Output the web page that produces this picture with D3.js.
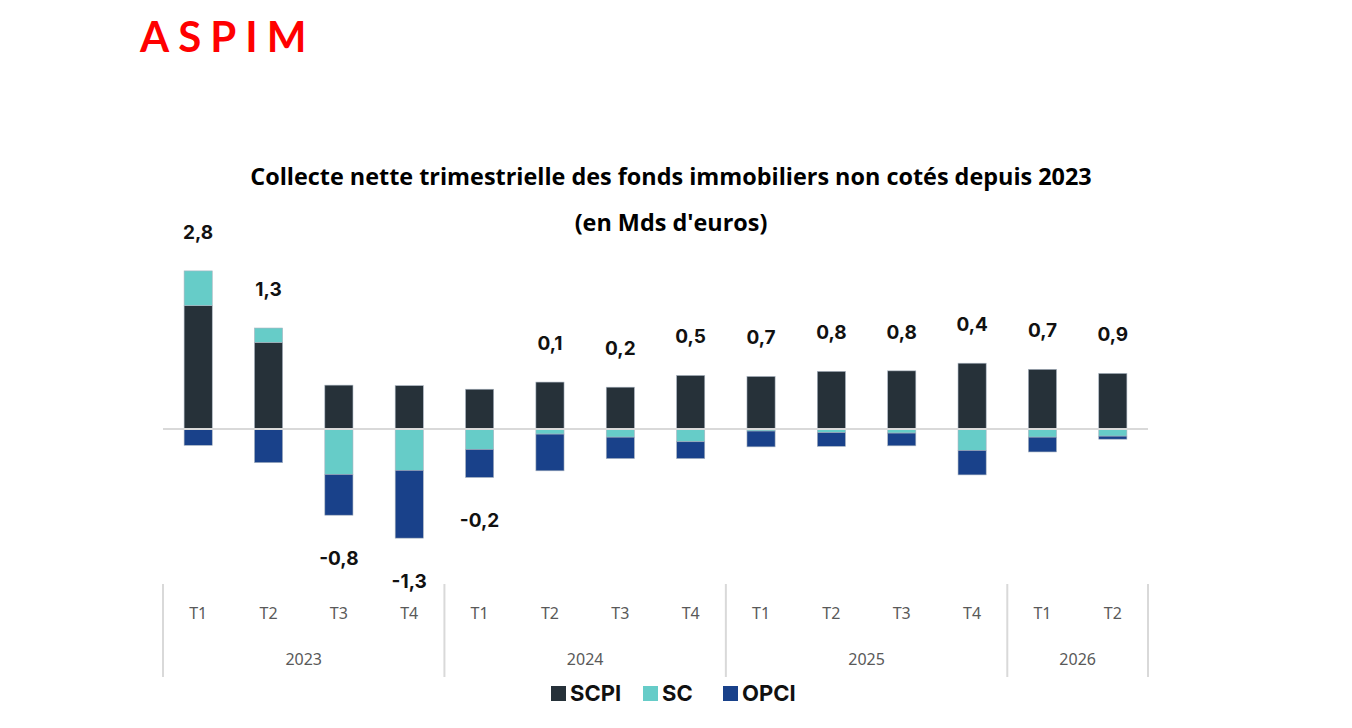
<!DOCTYPE html>
<html>
<head>
<meta charset="utf-8">
<script src="https://cdn.jsdelivr.net/npm/d3@7"></script>
<style>
  body { margin: 0; background: #ffffff; }
  svg { display: block; }
</style>
</head>
<body>
<svg id="chart" width="1352" height="728"></svg>
<script>
// Quarters and years
const quarters = ["T1", "T2", "T3", "T4", "T1", "T2", "T3", "T4", "T1", "T2", "T3", "T4", "T1", "T2"];
const years = ["2023", "2024", "2025", "2026"];
const quartersPerYear = [4, 4, 4, 2];

// Series values (Mds d'euros)
const scpi = [2.42, 1.70, 0.86, 0.85, 0.78, 0.92, 0.82, 1.05, 1.03, 1.13, 1.14, 1.29, 1.17, 1.09];
const sc   = [0.68, 0.28, -0.89, -0.81, -0.40, -0.10, -0.16, -0.25, -0.04, -0.07, -0.08, -0.42, -0.16, -0.14];
const opci = [-0.32, -0.66, -0.80, -1.33, -0.55, -0.72, -0.42, -0.33, -0.31, -0.27, -0.25, -0.48, -0.29, -0.06];

const seriesNames = ["SCPI", "SC", "OPCI"];
const colors = { SCPI: "#263139", SC: "#66ccc8", OPCI: "#19418a" };

const svg = d3.select("#chart");

// Logo
svg.append("text")
  .attr("x", 140).attr("y", 52)
  .attr("font-family", "Lato, 'Noto Sans', sans-serif")
  .attr("font-weight", 700)
  .attr("font-size", 42)
  .attr("letter-spacing", 9)
  .attr("fill", "#ff0000")
  .text("ASPIM");

// Title
svg.append("text")
  .attr("x", 671).attr("y", 185)
  .attr("text-anchor", "middle")
  .attr("font-family", "'Open Sans', Lato, sans-serif")
  .attr("font-weight", 700)
  .attr("font-size", 23.4)
  .attr("fill", "#000")
  .text("Collecte nette trimestrielle des fonds immobiliers non cotés depuis 2023");

svg.append("text")
  .attr("x", 671).attr("y", 231)
  .attr("text-anchor", "middle")
  .attr("font-family", "'Open Sans', Lato, sans-serif")
  .attr("font-weight", 700)
  .attr("font-size", 23.4)
  .attr("fill", "#000")
  .text("(en Mds d'euros)");

// Scales
const idx = d3.range(quarters.length);
const x = d3.scaleBand()
  .domain(idx)
  .range([163, 1148])
  .paddingInner(0.6)
  .paddingOuter(0.3);

const y = d3.scaleLinear()
  .domain([-2, 3.5])
  .range([531, 250.5]);

// Build stacked rows (positive stack upward, negative stack downward)
const rows = idx.map(i => {
  const vals = { SCPI: scpi[i], SC: sc[i], OPCI: opci[i] };
  let pos = 0, neg = 0;
  const segs = seriesNames.map(name => {
    const v = vals[name];
    let y0, y1;
    if (v >= 0) { y0 = pos; y1 = pos + v; pos = y1; }
    else { y0 = neg; y1 = neg + v; neg = y1; }
    return { name, i, y0, y1 };
  });
  return { i, segs, pos, neg, total: scpi[i] + sc[i] + opci[i] };
});

// Bars
const g = svg.append("g");
rows.forEach(r => {
  g.selectAll(null)
    .data(r.segs)
    .join("rect")
    .attr("x", d => x(d.i))
    .attr("width", x.bandwidth())
    .attr("y", d => y(Math.max(d.y0, d.y1)))
    .attr("height", d => Math.abs(y(d.y0) - y(d.y1)))
    .attr("fill", d => colors[d.name])
    .attr("stroke", "#a9b4c0")
    .attr("stroke-width", 0.6);
});

// Zero line
svg.append("line")
  .attr("x1", 163).attr("x2", 1148)
  .attr("y1", y(0)).attr("y2", y(0))
  .attr("stroke", "#d9d9d9")
  .attr("stroke-width", 2);

// Total labels
svg.selectAll(".total")
  .data(rows)
  .join("text")
  .attr("class", "total")
  .attr("x", d => x(d.i) + x.bandwidth() / 2)
  .attr("y", d => d.total >= 0 ? y(d.pos) - 32 : y(d.neg) + 50)
  .attr("text-anchor", "middle")
  .attr("font-family", "Inter, 'Noto Sans', sans-serif")
  .attr("font-weight", 700)
  .attr("font-size", 19)
  .attr("fill", "#111")
  .text(d => d3.format(".1f")(d.total).replace("−", "-").replace(".", ","));

// Category axis
const axisG = svg.append("g");
axisG.selectAll(".q")
  .data(idx)
  .join("text")
  .attr("x", i => x(i) + x.bandwidth() / 2)
  .attr("y", 619)
  .attr("text-anchor", "middle")
  .attr("font-family", "'Noto Sans', 'Open Sans', sans-serif")
  .attr("font-size", 16)
  .attr("fill", "#595959")
  .text(i => quarters[i]);

// Year groups and separators
let start = 0;
const bounds = [];
years.forEach((yr, k) => {
  const end = start + quartersPerYear[k];
  bounds.push({ yr, start, end });
  start = end;
});
const step = x.step();
const left = i => 163 + i * step;

axisG.selectAll(".yr")
  .data(bounds)
  .join("text")
  .attr("x", b => (left(b.start) + left(b.end)) / 2)
  .attr("y", 665)
  .attr("text-anchor", "middle")
  .attr("font-family", "'Noto Sans', 'Open Sans', sans-serif")
  .attr("font-size", 16)
  .attr("fill", "#595959")
  .text(b => b.yr);

const seps = [0].concat(bounds.map(b => b.end));
axisG.selectAll(".sep")
  .data(seps)
  .join("line")
  .attr("x1", i => left(i)).attr("x2", i => left(i))
  .attr("y1", 584).attr("y2", 677)
  .attr("stroke", "#d9d9d9")
  .attr("stroke-width", 2);

// Legend
const legendItems = [
  { name: "SCPI", x: 551 },
  { name: "SC", x: 643 },
  { name: "OPCI", x: 723 }
];
const lg = svg.append("g");
legendItems.forEach(it => {
  lg.append("rect")
    .attr("x", it.x).attr("y", 686)
    .attr("width", 15).attr("height", 15)
    .attr("fill", colors[it.name]);
  lg.append("text")
    .attr("x", it.x + 19).attr("y", 701)
    .attr("font-family", "Inter, 'Noto Sans', sans-serif")
    .attr("font-weight", 700)
    .attr("font-size", 22)
    .attr("fill", "#111")
    .text(it.name);
});
</script>
</body>
</html>
